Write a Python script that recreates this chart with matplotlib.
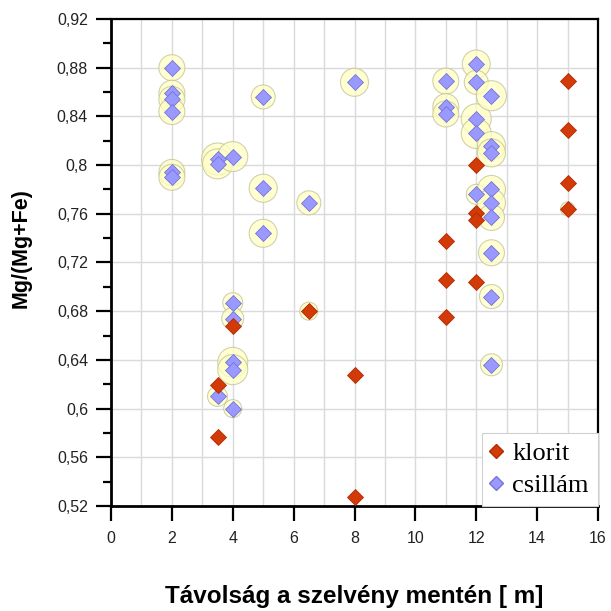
import numpy as np
import matplotlib.pyplot as plt
from matplotlib.ticker import MultipleLocator, FuncFormatter
from matplotlib.lines import Line2D

plt.rcParams['font.family'] = ['Liberation Sans', 'DejaVu Sans']

# csillám: távolság [m], Mg/(Mg+Fe), buborék méret
csillam_x = [2, 2, 2, 2, 2, 2,
             3.5, 3.5, 4,
             5, 5, 5,
             6.5, 8,
             11, 11, 11,
             12, 12, 12, 12, 12,
             12.5, 12.5, 12.5, 12.5, 12.5, 12.5, 12.5, 12.5, 12.5,
             4, 4, 4, 4, 4, 3.5]
csillam_y = [0.880, 0.859, 0.854, 0.844, 0.794, 0.790,
             0.805, 0.801, 0.807,
             0.856, 0.781, 0.744,
             0.769, 0.868,
             0.869, 0.848, 0.842,
             0.883, 0.868, 0.838, 0.826, 0.776,
             0.857, 0.816, 0.810, 0.780, 0.769, 0.757, 0.728, 0.692, 0.636,
             0.687, 0.674, 0.638, 0.632, 0.600, 0.610]
csillam_halo = [13, 13, 13, 13, 13, 13,
                16, 15, 15,
                12, 14, 14,
                12, 14,
                13, 13, 13,
                14, 12, 15, 15, 10,
                15, 14, 14, 14, 14, 13, 13, 12, 11,
                10, 11, 15, 15, 9, 10]

# klorit
klorit_x = [3.5, 3.5, 4, 6.5, 8, 8, 11, 11, 11, 12, 12, 12, 12, 15, 15, 15, 15]
klorit_y = [0.619, 0.577, 0.668, 0.680, 0.628, 0.527, 0.738, 0.706, 0.675,
            0.800, 0.761, 0.755, 0.704, 0.869, 0.829, 0.785, 0.764]
klorit_halo = [0, 0, 0, 9, 0, 0, 0, 0, 0, 0, 0, 0, 0, 0, 0, 0, 7]

dpi = 100
px2pt = 72.0 / dpi


def halo_size(r):
    # sugár (px) -> scatter terület (pt^2)
    return (2 * np.asarray(r, dtype=float) * px2pt) ** 2


fig = plt.figure(figsize=(6.11, 6.11), dpi=dpi)
ax = fig.add_axes([111 / 611, 1 - 506 / 611, 487 / 611, 487 / 611])

# buborékok
ax.scatter(csillam_x, csillam_y, s=halo_size(csillam_halo), facecolor='#ffffc4',
           edgecolor='#c2c296', linewidth=0.8, alpha=0.75, zorder=2)
ax.scatter(klorit_x, klorit_y, s=halo_size(klorit_halo), facecolor='#ffffc4',
           edgecolor='#c2c296', linewidth=0.8, alpha=0.75, zorder=2)

# pontok
ax.plot(csillam_x, csillam_y, 'D', ms=8, color='#9999ff', mec='#7474d8', mew=0.6,
        linestyle='none', zorder=3)
ax.plot(klorit_x, klorit_y, 'D', ms=8, color='#d23a0a', mec='#b52a00', mew=0.6,
        linestyle='none', zorder=4)

ax.set_xlim(0, 16)
ax.set_ylim(0.52, 0.92)
ax.xaxis.set_major_locator(MultipleLocator(2))
ax.xaxis.set_minor_locator(MultipleLocator(1))
ax.yaxis.set_major_locator(MultipleLocator(0.04))
ax.yaxis.set_minor_locator(MultipleLocator(0.02))
ax.yaxis.set_major_formatter(FuncFormatter(
    lambda v, p: ('%.2f' % v).rstrip('0').replace('.', ',')))

ax.grid(True, which='major', color='#dadada', linewidth=1.0, zorder=0)
ax.xaxis.grid(True, which='minor', color='#dadada', linewidth=1.0)
ax.set_axisbelow(True)

ax.tick_params(axis='both', which='major', direction='out', length=11, width=1.6,
               labelsize=11.5, colors='black', labelcolor='#222222')
ax.tick_params(axis='x', which='major', pad=7)
ax.tick_params(axis='y', which='major', pad=5.5)
ax.tick_params(axis='y', which='minor', direction='out', length=5.5, width=1.6)
ax.tick_params(axis='x', which='minor', length=0)

for side in ['left', 'bottom']:
    ax.spines[side].set_linewidth(2.0)
for side in ['top', 'right']:
    ax.spines[side].set_linewidth(1.6)

ax.set_xlabel('Távolság a szelvény mentén [ m]', fontsize=17.5, fontweight='bold')
ax.xaxis.set_label_coords(0.5, -0.162)
ax.set_ylabel('Mg/(Mg+Fe)', fontsize=15.5, fontweight='bold')
ax.yaxis.set_label_coords(-0.162, 0.53)

handles = [Line2D([], [], marker='D', ms=7, color='#d23a0a', mec='#b52a00', linestyle='none'),
           Line2D([], [], marker='D', ms=7, color='#9999ff', mec='#7474d8', linestyle='none')]
leg = ax.legend(handles, ['klorit', 'csillám'], loc='lower right', borderaxespad=0.0,
                prop={'family': 'Liberation Serif', 'size': 19}, fancybox=False,
                framealpha=1, edgecolor='#d0d0d0', handlelength=0.4,
                handletextpad=0.4, labelspacing=0.3, borderpad=0.35)
leg.get_frame().set_linewidth(0.8)

fig.savefig('out.png', dpi=dpi)
